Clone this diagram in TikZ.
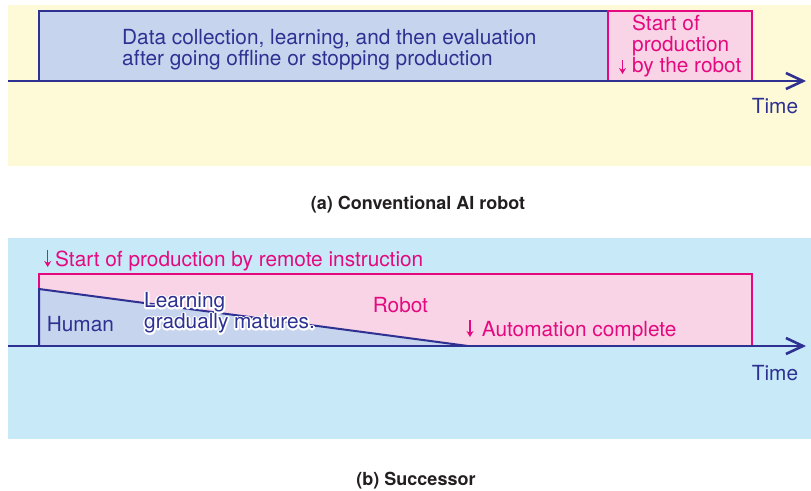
\documentclass[tikz,border=0pt]{standalone}
\usepackage{fontspec}
\setmainfont{TeX Gyre Heros}
\usetikzlibrary{arrows.meta}

\definecolor{axisblue}{HTML}{2E3192}
\definecolor{boxblue}{HTML}{C6D4EE}
\definecolor{magentaline}{HTML}{E5097F}
\definecolor{pinkfill}{HTML}{F8D4E6}
\definecolor{paleyellow}{HTML}{FEF9D6}
\definecolor{palecyan}{HTML}{C7E9F8}
\definecolor{captiongray}{HTML}{231F20}

% white outline behind text: stroke the glyphs (render mode 1) with a thick white pen
\newcommand{\haloed}[1]{\special{pdf:literal q 1 Tr 3.4 w 1 j 1 1 1 RG}#1\special{pdf:literal Q}}

\tikzset{
  timeaxis/.style={draw=axisblue, line width=2.6pt,
    -{Straight Barb[length=17pt,width=16pt,line width=2.6pt]}},
  humanbox/.style={fill=boxblue, draw=axisblue, line width=2pt},
  robotbox/.style={fill=pinkfill, draw=magentaline, line width=2pt},
  bluetext/.style={text=axisblue, font=\fontsize{20.8}{21}\selectfont, inner sep=0pt, anchor=base west},
  pinktext/.style={text=magentaline, font=\fontsize{20.8}{21}\selectfont, inner sep=0pt, anchor=base west},
  captiontext/.style={text=captiongray, font=\fontsize{18}{20}\selectfont\bfseries, inner sep=0pt, anchor=base},
  marker/.style={draw=magentaline, line width=1.2pt, -{Stealth[length=6pt,width=7pt]}},
}

\begin{document}
\begin{tikzpicture}[x=1pt,y=-1pt]
\useasboundingbox (0,0) rectangle (811,490);

% ---------- (a) conventional AI robot ----------
\fill[paleyellow] (8,5) rectangle (811,166);
\draw[humanbox] (39,81) -- (39,11) -- (608,11) -- (608,81);
\draw[robotbox] (608,81) -- (608,11) -- (752,11) -- (752,81);
\coordinate (a0) at (8,81);
\coordinate (a1) at (806,81);
\draw[timeaxis] (a0) -- (a1);
\node[bluetext] (offline1) at (122,44.3) {Data collection, learning, and then evaluation};
\node[bluetext] (offline2) at (122,65.3) {after going offline or stopping production};
\node[pinktext] (start1) at (632,30.7) {Start of};
\node[pinktext] (start2) at (632,51.7) {production};
\node[pinktext] (start3) at (632,72.7) {by the robot};
\coordinate (ma0) at (622.5,60);
\coordinate (ma1) at (622.5,74);
\draw[marker] (ma0) -- (ma1);
\node[bluetext] (timea) at (751.7,113.3) {Time};
\node[captiontext] (capa) at (418,209.3) {(a) Conventional AI robot};

% ---------- (b) successor ----------
\fill[palecyan] (8,238) rectangle (811,439);
\draw[robotbox] (39,346) -- (39,274) -- (752,274) -- (752,346);
\fill[boxblue] (39,289) -- (468,346) -- (39,346) -- cycle;
\draw[axisblue, line width=2pt] (39,346) -- (39,289) -- (468,346);
\coordinate (b0) at (8,346);
\coordinate (b1) at (806,346);
\draw[timeaxis] (b0) -- (b1);

\coordinate (mb0) at (47.7,250);
\coordinate (mb1) at (47.7,267);
\draw[marker] (mb0) -- (mb1);
\node[pinktext] (remote) at (55,266) {Start of production by remote instruction};
\node[bluetext] (human) at (46.7,331) {Human};
\node[pinktext] (robot) at (372.7,312.7) {Robot};
\coordinate (mc0) at (470,320);
\coordinate (mc1) at (470,337);
\draw[marker] (mc0) -- (mc1);
\node[pinktext] (auto) at (481.7,336) {Automation complete};

% label along the learning curve, white halo first, then the text itself
\node[bluetext, text=white] (halo1) at (144,307.7) {\haloed{Learning}};
\node[bluetext, text=white] (halo2) at (144,328.7) {\haloed{gradually matures.}};
\node[bluetext] (learn1) at (144,307.7) {Learning};
\node[bluetext] (learn2) at (144,328.7) {gradually matures.};

\node[bluetext] (timeb) at (751.7,380) {Time};
\node[captiontext] (capb) at (416,485) {(b) Successor};
\end{tikzpicture}
\end{document}
